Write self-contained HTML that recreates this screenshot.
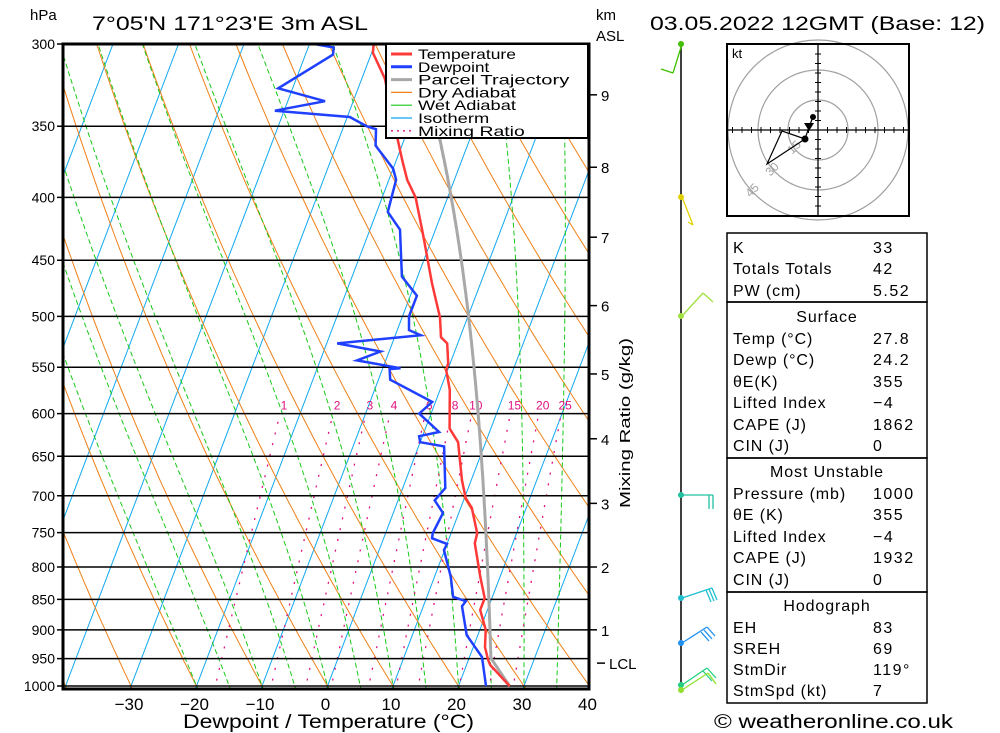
<!DOCTYPE html>
<html><head><meta charset="utf-8"><style>
html,body{margin:0;padding:0;background:#fff;}
svg{display:block;font-family:"Liberation Sans",sans-serif;}
</style></head><body>
<svg id="chart" width="1000" height="733" viewBox="0 0 1000 733" xmlns="http://www.w3.org/2000/svg">
<defs><clipPath id="plotclip"><rect x="63" y="44" width="526" height="645"/></clipPath></defs>
<rect x="0" y="0" width="1000" height="733" fill="#fff"/>
<g id="bg" clip-path="url(#plotclip)"></g>
<g id="levels"></g>
<g id="series" clip-path="url(#plotclip)"></g>
<g id="axes"></g>
<g id="legend">
  <rect x="386" y="44" width="202" height="94" fill="#fff" stroke="#000" stroke-width="2"/>
</g>
<text x="92" y="30" font-size="19" textLength="276" lengthAdjust="spacingAndGlyphs">7°05'N 171°23'E 3m ASL</text>
<text x="650" y="30" font-size="19" textLength="335" lengthAdjust="spacingAndGlyphs">03.05.2022 12GMT (Base: 12)</text>
<text x="30" y="20" font-size="15">hPa</text>
<text x="596" y="20" font-size="15">km</text>
<text x="596" y="41" font-size="15">ASL</text>
<text x="183" y="728" font-size="19" textLength="291" lengthAdjust="spacingAndGlyphs">Dewpoint / Temperature (°C)</text>
<text x="630" y="423" font-size="15" text-anchor="middle" transform="rotate(-90 630 423)" textLength="170" lengthAdjust="spacingAndGlyphs">Mixing Ratio (g/kg)</text>
<text x="714" y="728" font-size="19" textLength="239" lengthAdjust="spacingAndGlyphs">© weatheronline.co.uk</text>
<g id="winds"><line x1="681" y1="44" x2="681" y2="688" stroke="#000" stroke-width="1.5"/></g>
<g id="hodo"></g>
<g id="table"></g>
<script>
const NS="http://www.w3.org/2000/svg";
// ---- data ----
const pressureTicks=[300,350,400,450,500,550,600,650,700,750,800,850,900,950,1000];
const tempTicks=[-30,-20,-10,0,10,20,30,40];
const tempP=[1000,961,952,930,900,867,848,815,765,751,716,703,680,633,617,574,553,546,526,520,501,470,447,427,400,387,373,361,320,305,300];
const tempT=[27.8,23.6,23.0,21.8,20.9,18.9,18.9,17.0,14.2,14.0,11.7,10.2,8.6,5.8,3.7,1.5,-0.2,-0.3,-1.6,-2.9,-4.2,-7.4,-9.7,-11.8,-14.9,-17.2,-19.1,-20.7,-26.5,-29.8,-30.2];
const dewP=[1000,947,930,909,861,853,846,815,775,766,758,751,723,706,690,638,633,626,621,600,587,563,552,551,543,534,526,518,513,500,481,464,425,411,387,379,363,352,350,344,340,334,326,306,302,300];
const dewT=[24.2,21.9,20.3,18.3,15.9,16.2,14.0,12.5,9.9,10.0,7.4,7.2,7.6,5.6,6.5,3.9,0.0,-0.5,2.3,-1.8,-0.5,-8.2,-8.9,-7.3,-14.4,-11.3,-18.4,-6.1,-8.2,-9.0,-9.0,-12.4,-15.4,-18.3,-18.9,-20.0,-24.0,-24.9,-26.5,-29.6,-41.4,-34.3,-42.2,-35.8,-36.1,-39.2];
const sfcT=27.8, sfcTd=24.2;
const mixRatios=[1,2,3,4,6,8,10,15,20,25];
const moistThetaW=[-20,-15,-10,-5,0,5,10,15,20,25,30,35,40];
const dryTheta=[-60,-50,-40,-30,-20,-10,0,10,20,30,40,50,60,70,80,90,100,110,120,130,140,150,160,170,180];
const isoTemps=[-130,-120,-110,-100,-90,-80,-70,-60,-50,-40,-30,-20,-10,0,10,20,30,40];
const kmLabels=[1,2,3,4,5,6,7,8,9];
const kmPressure=[900,800,710,629,557,490,431,378,330];
const lclP=958;
// ---- axes ----
function Y(p){return 44+Math.log(p/300)/Math.log(1000/300)*642;}
function X(T,p){return 327.5+6.55*T+0.38*(686-Y(p));}
function el(tag,attrs,parent){const e=document.createElementNS(NS,tag);for(const k in attrs)e.setAttribute(k,attrs[k]);parent.appendChild(e);return e;}
function poly(pts,parent,stroke,w,dash){const e=el('polyline',{points:pts.map(q=>q[0].toFixed(1)+','+q[1].toFixed(1)).join(' '),fill:'none',stroke:stroke,'stroke-width':w},parent);if(dash)e.setAttribute('stroke-dasharray',dash);return e;}
const bg=document.getElementById('bg'),lv=document.getElementById('levels'),se=document.getElementById('series'),ax=document.getElementById('axes');
function es(T){return 6.112*Math.exp(17.67*T/(T+243.5));}
function tdFromE(e){const l=Math.log(e/6.112);return 243.5*l/(17.67-l);}
function moistStep(T,p,dp){const Tk=T+273.15,e=es(T),rs=0.622*e/(p-e);const num=287*Tk+2.5e6*rs;const den=1004+2.5e6*2.5e6*rs*0.622/(287*Tk*Tk);return T+num/den/p*dp;}
// isotherms
isoTemps.forEach(t=>{const l=poly([[X(t,1010),Y(1010)],[X(t,300),Y(300)]],bg,'#10a8f0',1);

});
// dry adiabats
dryTheta.forEach(th=>{const pts=[];for(let p=1010;p>=300;p-=10){const T=(th+273.15)*Math.pow(p/1000,0.286)-273.15;pts.push([X(T,p),Y(p)]);}
const l=poly(pts,bg,'#f08018',1);

});
// moist adiabats
moistThetaW.forEach(tw=>{const pts=[];let T=tw;const T1010=moistStep(tw,1000,10);pts.push([X(T1010,1010),Y(1010)]);for(let p=1000;p>=300;p-=2){pts.push([X(T,p),Y(p)]);T=moistStep(T,p,-2);}
const l=poly(pts,bg,'#18c818',1,'5 3');

});
// mixing ratio
mixRatios.forEach(w=>{const pts=[];for(let p=1010;p>=600;p-=10){const e=w*p/(622+w);pts.push([X(tdFromE(e),p),Y(p)]);}
const l=poly(pts,bg,'#e0107f',1.3,'2 9');


const e6=w*600/(622+w);const t=el('text',{x:X(tdFromE(e6),600)+4,y:Y(600)-4,'font-size':12,fill:'#e0107f','text-anchor':'middle'},bg);t.textContent=w;

});
// pressure levels
pressureTicks.forEach(p=>{const y=Y(p);const l=el('line',{x1:57,y1:y,x2:589,y2:y,stroke:'#000','stroke-width':1.5},lv);


const t=el('text',{x:55,y:y+5,'font-size':14,'text-anchor':'end'},lv);t.textContent=p;

});
// parcel
(function(){const w=0.622*es(sfcTd)/(1000-es(sfcTd));const pts=[];let p=1000,T=sfcT;
while(p>300){const Td=tdFromE(w*p/(0.622+w));T=(sfcT+273.15)*Math.pow(p/1000,0.286)-273.15;pts.push([X(T,p),Y(p)]);if(T<=Td)break;p-=1;}
while(p>=300){pts.push([X(T,p),Y(p)]);T=moistStep(T,p,-2);p-=2;}
const l=poly(pts,se,'#a8a8a8',3);

})();
const dl=poly(dewP.map((p,i)=>[X(dewT[i],p),Y(p)]),se,'#2040ff',2.5);


const tl=poly(tempP.map((p,i)=>[X(tempT[i],p),Y(p)]),se,'#ff3838',2.5);


// frame
el('rect',{x:63,y:44,width:526,height:645,fill:'none',stroke:'#000','stroke-width':3},ax);
tempTicks.forEach(t=>{const tx=el('text',{x:X(t,1000)-2,y:710,'font-size':17,'text-anchor':'middle'},ax);tx.textContent=(t<0?'\u2212'+(-t):t);

});
kmLabels.forEach((k,i)=>{const y=Y(kmPressure[i]);el('line',{x1:589,y1:y,x2:597,y2:y,stroke:'#000','stroke-width':1.5},ax);
const t=el('text',{x:601,y:y+6,'font-size':15},ax);t.textContent=k;

});
el('line',{x1:597,y1:Y(lclP),x2:605,y2:Y(lclP),stroke:'#000','stroke-width':1.5},ax);
const lc=el('text',{x:609,y:Y(lclP)+6,'font-size':15},ax);lc.textContent='LCL';


// legend
const lg=document.getElementById('legend');
const legItems=[['Temperature','#ff3838',3,''],['Dewpoint','#2040ff',3,''],['Parcel Trajectory','#a8a8a8',3,''],['Dry Adiabat','#f08018',1.2,''],['Wet Adiabat','#18c818',1.2,''],['Isotherm','#10a8f0',1.2,''],['Mixing Ratio','#e0107f',1.3,'2 4']];
legItems.forEach((it,i)=>{const y=54+i*12.8;const g=el('g',{},lg);


const l=el('line',{x1:391,y1:y,x2:412,y2:y,stroke:it[1],'stroke-width':it[2]},g);if(it[3])l.setAttribute('stroke-dasharray',it[3]);
const t=el('text',{x:418,y:y+5,'font-size':14,textLength:it[0].length*8.9,lengthAdjust:'spacingAndGlyphs'},g);t.textContent=it[0];});
// wind barbs
const wg=document.getElementById('winds');
const barbs=[['#40c000',44,[[682,44,673,73],[673,73,661,69]]],['#e0d000',197,[[682,197,693,225],[693,225,688,222]]],['#a0e040',316,[[682,316,703,293],[703,293,713,302]]],['#20c0a0',495,[[682,495,713,495],[713,495,713,509],[709,495,709,509]]],['#20c0d0',598,[[682,598,712,588],[712,588,717,600],[709,589,714,601],[706,590,711,602]]],['#2090f0',643,[[682,643,707,627],[707,627,715,636],[704,630,712,639],[701,632,709,641]]],['#20d080',685,[[682,685,707,668],[707,668,716,678],[703,671,712,681]]],['#90e030',690,[[682,690,708,673],[708,673,716,684]]]];
barbs.forEach(b=>{const g=el('g',{},wg);


el('circle',{cx:681,cy:b[1],r:3,fill:b[0]},g);b[2].forEach(s=>el('line',{x1:s[0],y1:s[1],x2:s[2],y2:s[3],stroke:b[0],'stroke-width':1.3},g));});
// hodograph
const hg=document.getElementById('hodo');const cx=818,cy=130;
[30,60,90].forEach(r=>el('circle',{cx:cx,cy:cy,r:r,fill:'none',stroke:'#a0a0a0','stroke-width':1.2},hg));
el('line',{x1:727,y1:cy,x2:909,y2:cy,stroke:'#000','stroke-width':1.3},hg);
el('line',{x1:cx,y1:44,x2:cx,y2:216,stroke:'#000','stroke-width':1.3},hg);
for(let k=-9;k<=9;k++){if(!k)continue;const d=k*9.5;el('line',{x1:cx+d,y1:cy-3,x2:cx+d,y2:cy+3,stroke:'#000'},hg);el('line',{x1:cx-3,y1:cy+d,x2:cx+3,y2:cy+d,stroke:'#000'},hg);}
el('rect',{x:727,y:44,width:182,height:172,fill:'none',stroke:'#000','stroke-width':2},hg);
const kt=el('text',{x:732,y:58,'font-size':13},hg);kt.textContent='kt';
[['15',797,150],['30',775,172],['45',755,193]].forEach(a=>{const t=el('text',{x:a[1],y:a[2],'font-size':12,fill:'#a0a0a0','text-anchor':'middle',transform:'rotate(-45 '+a[1]+' '+a[2]+')'},hg);t.textContent=a[0];});
poly([[813,117],[809,127],[805,139],[782,131],[767,164],[805,139]],hg,'#000',1.2);
el('circle',{cx:813,cy:117,r:3},hg);el('circle',{cx:805,cy:139,r:3.5},hg);
el('polygon',{points:'804,123 814,123 809,131'},hg);
// table
const tg=document.getElementById('table');
[[233,302],[302,458],[458,592],[592,703]].forEach(b=>el('rect',{x:727,y:b[0],width:200,height:b[1]-b[0],fill:'none',stroke:'#000','stroke-width':1.5},tg));
const rows=[['K','33',247],['Totals Totals','42',268],['PW (cm)','5.52',290],['Temp (°C)','27.8',338],['Dewp (°C)','24.2',359],['θE(K)','355',381],['Lifted Index','\u22124',402],['CAPE (J)','1862',424],['CIN (J)','0',445],['Pressure (mb)','1000',493],['θE (K)','355',514],['Lifted Index','\u22124',536],['CAPE (J)','1932',557],['CIN (J)','0',579],['EH','83',627],['SREH','69',648],['StmDir','119°',669],['StmSpd (kt)','7',690]];
rows.forEach(r=>{const g=el('g',{},tg);


const a=el('text',{x:733,y:r[2]+6,'font-size':16,'letter-spacing':'0.9'},g);a.textContent=r[0];
const b=el('text',{x:873,y:r[2]+6,'font-size':16,'letter-spacing':'1.5'},g);b.textContent=r[1];});
[['Surface',316],['Most Unstable',471],['Hodograph',605]].forEach(h=>{const t=el('text',{x:827,y:h[1]+6,'font-size':16,'text-anchor':'middle','letter-spacing':'0.9'},tg);t.textContent=h[0];

});
</script>
</svg>
</body></html>
